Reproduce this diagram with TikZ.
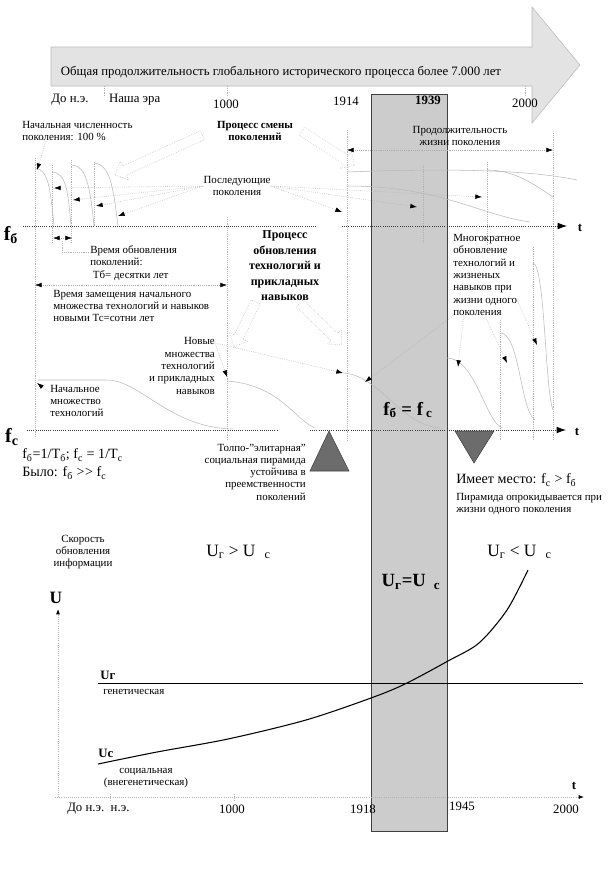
\documentclass[tikz,border=0pt]{standalone}
\usepackage{fontspec}
\setmainfont{Liberation Serif}
\usepackage{tikz}
\usetikzlibrary{positioning,shapes.arrows,arrows.meta}

\newcommand{\sml}{\fontsize{8.2}{9.2}\selectfont}
\newcommand{\yrs}{\fontsize{9.6}{11}\selectfont}
\newcommand{\midf}{\fontsize{10.6}{12.5}\selectfont}
\newcommand{\bigf}{\fontsize{13}{15}\selectfont}

\begin{document}
\begin{tikzpicture}[x=0.75pt,y=-0.75pt,
    txt/.style={inner sep=0pt,font=\sml,align=left},
    ctxt/.style={inner sep=0pt,font=\sml,align=center},
    rtxt/.style={inner sep=0pt,font=\sml,align=right},
    yr/.style={inner sep=0pt,font=\yrs},
    big/.style={inner sep=0pt,font=\bigf},
    guide/.style={gray!60,densely dotted},
    leader/.style={gray!65,densely dotted,-{Latex[black,length=5pt,width=3.5pt]}},
    span/.style={gray!65,densely dotted,{Latex[black,length=5pt,width=3.5pt]}-{Latex[black,length=5pt,width=3.5pt]}},
    gen/.style={gray!55},
    axisline/.style={gray!45!black,densely dotted,semithick},
    hollow/.style={single arrow,draw=gray!60,densely dotted,inner sep=3.5pt,
      single arrow head extend=4pt,minimum width=15pt},
    pyr/.style={fill=gray!85!black,draw=gray!50!black}
    ]
    \useasboundingbox (0,0) rectangle (616,872);

    % band 1918-1945
    \draw[fill=gray!40,draw=gray!50!black] (371,94) rectangle (447,831);

    % total duration arrow
    \draw[fill=gray!22,draw=gray!55] (51,47) -- (532,47) -- (532,7) -- (580,65)
      -- (532,123) -- (532,86) -- (51,86) -- cycle;
    \node[inner sep=0pt,font=\yrs] (title) at (281,72)
      {Общая продолжительность глобального исторического процесса более 7.000 лет};
    \node[yr] (bce) at (70,100) {До н.э.};
    \node[yr] (ce) [right=15pt of bce] {Наша эра};
    \node[yr] (y1000) at (226,104) {1000};
    \node[yr] (y1914) at (346,101) {1914};
    \node[yr,font=\yrs\bfseries] (y1939) at (428,100) {1939};
    \node[yr] (y2000) at (525,103) {2000};
    \foreach \x in {104,227,525}
      \draw[guide] (\x,86) -- (\x,96);

    % guide lines
    \foreach \x/\a/\b in {35/158/437,52/165/243,71/160/243,94/162/226,227/217/440,
        347/130/440,423/165/243,487/162/245,553/133/440,500/320/440,533/247/440}
      \draw[guide] (\x,\a) -- (\x,\b);

    % axes f_b and f_c
    \draw[axisline] (23,226) -- (317,226);
    \draw[axisline,-{Latex[black,length=7pt,width=5pt]}] (342,226) -- (567,226);
    \draw[axisline] (27,430) -- (277,430);
    \draw[axisline,-{Latex[black,length=7pt,width=5pt]}] (310,430) -- (566,430);
    \node[inner sep=0pt,font=\fontsize{15}{17}\selectfont\bfseries] (fb) at (11,235) {f\textsubscript{б}};
    \node[inner sep=0pt,font=\fontsize{15}{17}\selectfont\bfseries] (fc) at (12,437) {f\textsubscript{с}};
    \node[inner sep=0pt,font=\yrs\bfseries] (t1) at (580,228) {t};
    \node[inner sep=0pt,font=\yrs\bfseries] (t2) at (577,432) {t};

    % generations
    \draw[gen] (35,168) .. controls (48,170) and (50,185) .. (54,226);
    \draw[gen] (53,172) .. controls (66,174) and (68,190) .. (71,226);
    \draw[gen] (72,165) .. controls (86,166) and (90,185) .. (94,226);
    \draw[gen] (94,163) .. controls (110,165) and (113,185) .. (118,226);
    \draw[gen] (347,172) .. controls (450,168) and (530,170) .. (577,180);
    \draw[gen] (487,170) .. controls (515,170) and (535,185) .. (553,197);
    \draw[gen] (347,186) .. controls (440,186) and (480,215) .. (530,222);

    % technologies
    \draw[gen] (38,380) -- (107,380) .. controls (140,380) and (170,428) .. (233,429);
    \draw[gen] (227,381) .. controls (280,385) and (295,420) .. (315,428);
    \draw[gen] (343,373) .. controls (380,375) and (400,425) .. (440,428);
    \draw[gen] (447,358) .. controls (475,358) and (485,420) .. (502,428);
    \draw[gen] (500,333) .. controls (520,333) and (520,410) .. (535,420);
    \draw[gen] (533,263) .. controls (545,265) and (545,390) .. (553,410);

    \coordinate (g0) at (37,170);
    \coordinate (g1) at (54,188);
    \coordinate (g2) at (73,200);
    \coordinate (g3) at (96,206);
    \coordinate (g4) at (118,216);
    \coordinate (g5) at (342,212);
    \coordinate (g6) at (417,207);
    \coordinate (g7) at (482,197);
    \coordinate (n1) at (227,377);
    \coordinate (n2) at (343,373);
    \coordinate (fe) at (365,382);
    \coordinate (m1) at (458,367);
    \coordinate (m2) at (507,363);
    \coordinate (m3) at (537,345);
    \coordinate (s0) at (37,383);
    \coordinate (lifeL) at (347,150);
    \coordinate (lifeR) at (553,150);

    % upper texts
    \node[txt,anchor=west] (init) at (22,131) {Начальная численность\\поколения: 100 \%};
    \node[ctxt,font=\sml\bfseries] (smena) at (255,131) {Процесс смены\\поколений};
    \node[ctxt] (seq) at (237,186) {Последующие\\поколения};
    \node[ctxt] (life) at (460,136) {Продолжительность\\жизни поколения};
    \node[txt,anchor=west] (upd) at (90,263) {Время обновления\\поколений:\\\hspace{2pt}Тб= десятки лет};
    \node[txt,anchor=west] (repl) at (53,306) {Время замещения начального\\множества технологий и навыков\\новыми Тс=сотни лет};
    \node[ctxt,font=\fontsize{9}{11.6}\selectfont\bfseries] (tech) at (285,266)
      {Процесс\\обновления\\технологий и\\прикладных\\навыков};
    \node[txt,anchor=west] (multi) at (453,275)
      {Многократное\\обновление\\технологий и\\жизненых\\навыков при\\жизни одного\\поколения};
    \node[rtxt,anchor=east] (novye) at (215,366) {Новые\\множества\\технологий\\и прикладных\\навыков};
    \node[txt,anchor=west] (initset) at (50,401) {Начальное\\множество\\технологий};
    \node[big,font=\fontsize{14}{16}\selectfont\bfseries] (eqf) at (408,410) {f\textsubscript{б} = f\,\textsubscript{с}};

    % hollow arrows
    \node[hollow,rotate=204.4,minimum height=72pt] (ha1) at (161,154) {};
    \node[hollow,rotate=-32.7,minimum height=47pt] (ha2) at (326,147) {};
    \node[hollow,rotate=-116.1,minimum height=37pt] (ha3) at (246,322) {};
    \node[hollow,rotate=-44.3,minimum height=44pt] (ha4) at (319,322) {};

    % leaders
    \draw[leader] ([xshift=18pt]init.south west) -- (g0);
    \foreach \g in {g1,g2,g3,g4}
      \draw[leader] (seq.west) -- (\g);
    \foreach \g in {g5,g6,g7}
      \draw[leader] (seq.east) -- (\g);
    \draw[span] (lifeL) -- (lifeR);
    \draw[span] (53,238) -- (72,238);
    \draw[guide] (62,241) |- ([yshift=-5pt]upd.north west);
    \draw[span] (35,285) -- (227,285);
    \draw[leader] ([yshift=-4pt]novye.north east) -- (n1);
    \draw[leader] ([yshift=-4pt]novye.north east) -- (n2);
    \draw[leader] (multi.south west) -- (fe);
    \draw[leader] ([xshift=8pt]multi.south west) -- (m1);
    \draw[leader] ([xshift=24pt]multi.south west) -- (m2);
    \draw[leader] ([xshift=48pt,yshift=12pt]multi.south west) -- (m3);
    \draw[leader] ([yshift=6pt]initset.west) -- (s0);

    % pyramids
    \draw[pyr] (329,431) -- (349,471) -- (310,471) -- cycle;
    \draw[pyr] (455,431) -- (494,431) -- (474,463) -- cycle;

    % lower texts
    \node[inner sep=0pt,font=\midf,anchor=west] (freq) at (22,455)
      {f\textsubscript{б}=1/T\textsubscript{б}; f\textsubscript{с} = 1/T\textsubscript{с}};
    \node[inner sep=0pt,font=\midf,anchor=west] (was) at (22,473)
      {Было: f\textsubscript{б} >\kern0.4pt> f\textsubscript{с}};
    \node[rtxt,anchor=east] (crowd) at (306,472)
      {Толпо-"элитарная"\\социальная пирамида\\устойчива в\\преемственности\\поколений};
    \node[inner sep=0pt,font=\midf,anchor=west] (now) at (456,480) {Имеет место: f\textsubscript{с} > f\textsubscript{б}};
    \node[txt,anchor=west] (flip) at (456,504) {Пирамида опрокидывается при\\жизни одного поколения};
    \node[ctxt] (speed) at (83,552) {Скорость\\обновления\\информации};
    \node[big,anchor=west] (ugt) at (206,552) {U\textsubscript{г} > U\textsubscript{\hspace{7pt}с}};
    \node[big,anchor=west] (ult) at (487,552) {U\textsubscript{г} < U\textsubscript{\hspace{7pt}с}};
    \node[big,font=\fontsize{14}{16}\selectfont\bfseries] (ueq) at (411,582) {U\textsubscript{г}=U\textsubscript{\hspace{6pt}с}};

    % speed graph
    \draw[axisline,gray!60,-{Latex[black,length=4pt,width=3pt]}] (58,797) -- (58,609);
    \draw[axisline,gray!60,-{Latex[black,length=4pt,width=3pt]}] (55,797) -- (584,797);
    \foreach \x in {110,234}
      \draw[guide] (\x,794) -- (\x,800);
    \node[big,font=\bigf\bfseries] (ulab) at (56,598) {U};
    \draw[semithick] (98,683) -- (583,683);
    \draw[thick] plot[smooth] coordinates {(98,764) (157,752) (228,739) (306,720)
      (371,698) (405,684) (448,661) (479,643) (507,610) (528,570)};
    \node[inner sep=0pt,font=\yrs\bfseries,anchor=west] (urlab) at (100,675) {Uг};
    \node[txt,anchor=west] (gen) at (103,692) {генетическая};
    \node[inner sep=0pt,font=\yrs\bfseries,anchor=west] (uclab) at (98,753) {Uc};
    \node[ctxt] (soc) at (146,778) {социальная\\(внегенетическая)};
    \node[yr,font=\yrs\bfseries] (t3) at (574,786) {t};
    \node[yr,anchor=west] (ax0) at (67,809) {До н.э.\ \ н.э.};
    \node[yr] (ax1) at (232,809) {1000};
    \node[yr] (ax2) at (363,809) {1918};
    \node[yr] (ax3) at (462,806) {1945};
    \node[yr] (ax4) at (566,809) {2000};
\end{tikzpicture}
\end{document}
